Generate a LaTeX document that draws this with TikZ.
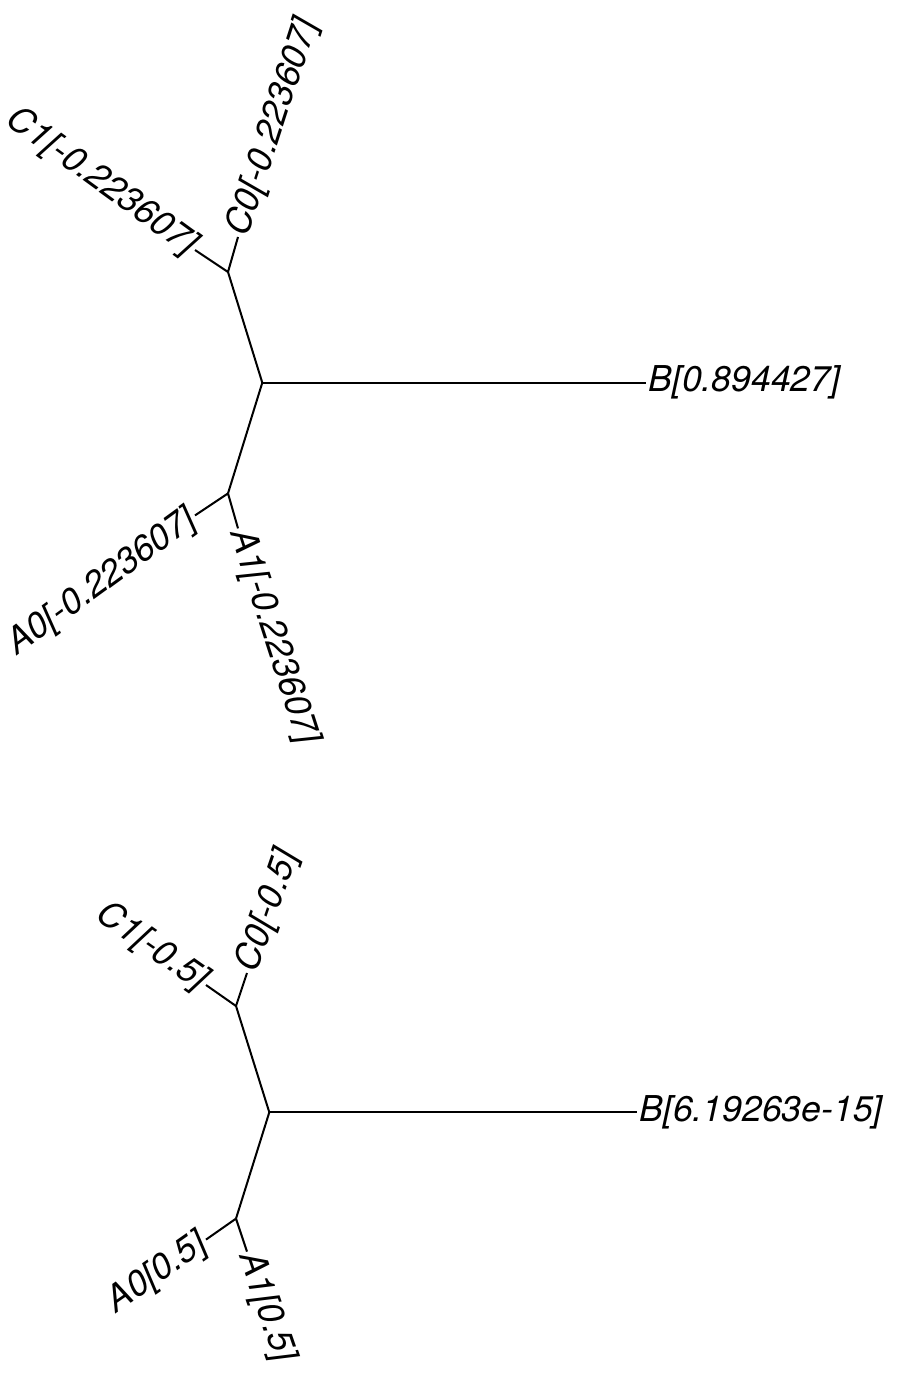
\documentclass[tikz,border=0pt]{standalone}
\usepackage{fontspec}
\setmainfont{TeX Gyre Heros}
\usetikzlibrary{positioning}

\begin{document}
\begin{tikzpicture}[
    x=0.5pt, y=-0.5pt,
    branch/.style={line width=1pt},
    every node/.style={font=\fontsize{17.8}{20}\selectfont\itshape, inner sep=1pt}
]
\useasboundingbox (0,0) rectangle (900,1374);

% Upper tree: root, inner nodes and leaf tips
\coordinate (r1) at (262.3,382.7);
\coordinate (c1) at (228,272);
\coordinate (a1) at (228,493.4);
\coordinate (tB1) at (646,382.7);
\coordinate (tC11) at (195,250);
\coordinate (tC01) at (238,237);
\coordinate (tA01) at (195,515.4);
\coordinate (tA11) at (238,528.4);

\draw[branch] (r1) -- (tB1);
\draw[branch] (r1) -- (c1) (r1) -- (a1);
\draw[branch] (c1) -- (tC11) (c1) -- (tC01);
\draw[branch] (a1) -- (tA01) (a1) -- (tA11);

% Leaf labels
\node[anchor=east, rotate=-36] (lC11) at (tC11) {C1[-0.223607]};
\node[anchor=west, rotate=72] (lC01) at (tC01) {C0[-0.223607]};
\node[anchor=west] (lB1) at (tB1) {B[0.894427]};
\node[anchor=east, rotate=36] (lA01) at (tA01) {A0[-0.223607]};
\node[anchor=west, rotate=-72] (lA11) at (tA11) {A1[-0.223607]};

% Lower tree
\coordinate (r2) at (269.3,1112.3);
\coordinate (c2) at (236,1006);
\coordinate (a2) at (236,1218.6);
\coordinate (tB2) at (637,1112.3);
\coordinate (tC12) at (206,985);
\coordinate (tC02) at (247,973);
\coordinate (tA02) at (206,1239.6);
\coordinate (tA12) at (247,1251.6);

\draw[branch] (r2) -- (tB2);
\draw[branch] (r2) -- (c2) (r2) -- (a2);
\draw[branch] (c2) -- (tC12) (c2) -- (tC02);
\draw[branch] (a2) -- (tA02) (a2) -- (tA12);

\node[anchor=east, rotate=-35] (lC12) at (tC12) {C1[-0.5]};
\node[anchor=west, rotate=71] (lC02) at (tC02) {C0[-0.5]};
\node[anchor=west] (lB2) at (tB2) {B[6.19263e-15]};
\node[anchor=east, rotate=35] (lA02) at (tA02) {A0[0.5]};
\node[anchor=west, rotate=-71] (lA12) at (tA12) {A1[0.5]};
\end{tikzpicture}
\end{document}
